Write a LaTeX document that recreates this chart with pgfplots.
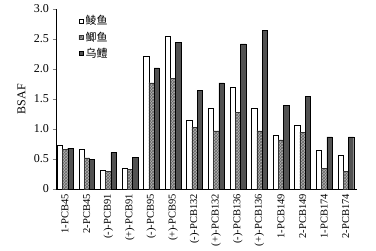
\documentclass[border=0pt]{standalone}
\usepackage{fontspec}
\setmainfont{Liberation Serif}
\newfontfamily\cjk{Noto Sans CJK SC}
\usepackage{pgfplots}
\pgfplotsset{compat=1.18}
\usetikzlibrary{patterns}
\begin{document}
\fontsize{12}{14}\selectfont
\begin{tikzpicture}
\path[use as bounding box] (-56pt,-61pt) rectangle (320pt,189pt);
\begin{axis}[
  at={(0,0)}, anchor=south west,
  scale only axis, width=301pt, height=180pt,
  ybar=0pt, bar width=5.3pt,
  xmin=-0.42, xmax=13.52, ymin=0, ymax=3,
  axis x line*=bottom, axis y line*=left,
  axis line style={line width=0.6pt},
  xtick={0,...,13},
  xticklabels={1-PCB45,2-PCB45,(-)-PCB91,(+)-PCB91,(-)-PCB95,(+)-PCB95,(-)-PCB132,(+)-PCB132,(-)-PCB136,(+)-PCB136,1-PCB149,2-PCB149,1-PCB174,2-PCB174},
  x tick label style={rotate=90, anchor=east, font=\fontsize{10.5}{12}\selectfont, inner xsep=2pt},
  xticklabel shift=0pt,
  major x tick style={draw=none},
  ytick={0,0.5,1,1.5,2,2.5,3},
  yticklabels={0,0.5,1.0,1.5,2.0,2.5,3.0},
  tick align=outside, major tick length=3pt,
  ylabel={BSAF},
  y tick label style={font=\fontsize{12}{14}\selectfont},
  label style={font=\fontsize{12}{14}\selectfont},
  legend style={at={(rel axis cs:0.075,0.975)}, anchor=north west, draw=none, fill=none,
    font=\fontsize{11}{13}\selectfont\cjk, row sep=1pt, inner sep=0pt, cells={anchor=west}},
  legend image code/.code={\draw[#1] (0pt,-2.2pt) rectangle (4.4pt,2.2pt);},
]
\addplot[draw=black, fill=white, line width=0.4pt] coordinates {
(0,0.73) (1,0.67) (2,0.31) (3,0.35) (4,2.22) (5,2.55) (6,1.14) (7,1.35) (8,1.70) (9,1.34) (10,0.90) (11,1.06) (12,0.64) (13,0.56)};
\addplot[draw=black!80, fill=black!30, line width=0.4pt, postaction={pattern=crosshatch, pattern color=black!60}] coordinates {
(0,0.66) (1,0.52) (2,0.30) (3,0.33) (4,1.77) (5,1.85) (6,1.03) (7,0.97) (8,1.28) (9,0.97) (10,0.82) (11,0.95) (12,0.34) (13,0.30)};
\addplot[draw=black, fill=black!68, line width=0.4pt] coordinates {
(0,0.68) (1,0.50) (2,0.61) (3,0.53) (4,2.02) (5,2.44) (6,1.64) (7,1.77) (8,2.42) (9,2.64) (10,1.40) (11,1.55) (12,0.87) (13,0.87)};
\legend{鲮鱼,鲫鱼,乌鳢}
\end{axis}
\end{tikzpicture}
\end{document}
